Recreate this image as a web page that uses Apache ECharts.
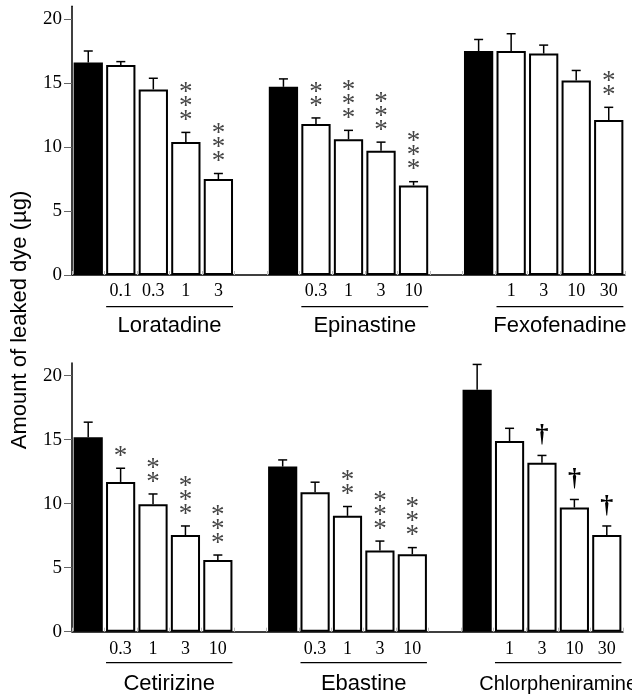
<!DOCTYPE html>
<html>
<head>
<meta charset="utf-8">
<script src="https://cdn.jsdelivr.net/npm/echarts@6/dist/echarts.min.js"></script>
<style>
  html, body { margin: 0; padding: 0; background: #fff; }
  #chart { width: 632px; height: 698px; }
</style>
</head>
<body>
<div id="chart"></div>
<script>
// 上段のデータ
const topDrugs = ['Loratadine', 'Epinastine', 'Fexofenadine']
const topDoses = [['0.1', '0.3', '1', '3'], ['0.3', '1', '3', '10'], ['1', '3', '10', '30']]
const topMeans = [[16.6, 16.4, 14.5, 10.4, 7.5], [14.7, 11.8, 10.6, 9.7, 7.0], [17.5, 17.5, 17.3, 15.2, 12.1]]
const topSem = [[0.9, 0.27, 0.87, 0.74, 0.43], [0.62, 0.47, 0.7, 0.68, 0.29], [0.9, 1.35, 0.66, 0.78, 1.0]]
const topMarks = [['', '', '', '***', '***'], ['', '**', '***', '***', '***'], ['', '', '', '', '**']]

// 下段のデータ
const bottomDrugs = ['Cetirizine', 'Ebastine', 'Chlorpheniramine']
const bottomDoses = [['0.3', '1', '3', '10'], ['0.3', '1', '3', '10'], ['1', '3', '10', '30']]
const bottomMeans = [[15.2, 11.7, 9.95, 7.55, 5.6], [12.9, 10.9, 9.05, 6.35, 6.05], [18.9, 14.9, 13.2, 9.7, 7.55]]
const bottomSem = [[1.17, 1.07, 0.81, 0.71, 0.39], [0.52, 0.78, 0.73, 0.73, 0.52], [1.98, 0.99, 0.57, 0.63, 0.71]]
const bottomMarks = [['', '*', '**', '***', '***'], ['', '', '**', '***', '***'], ['', '', '†', '†', '†']]

const yTicks = [0, 5, 10, 15, 20]

// 1段分のカテゴリ・棒・誤差・記号を組み立てる（薬剤の間に空きを1つ入れる）
function buildPanel(drugs, doses, means, sems, marks) {
  const labels = [], bars = [], errs = [], notes = [], groups = []
  drugs.forEach((drug, g) => {
    if (g > 0) { labels.push(''); bars.push('-') }
    const start = labels.length
    means[g].forEach((m, i) => {
      const idx = labels.length
      labels.push(i === 0 ? '' : doses[g][i - 1])
      bars.push(i === 0
        ? { value: m, itemStyle: { color: '#000', borderColor: '#000' } }
        : { value: m })
      errs.push([idx, m, m + sems[g][i]])
      if (marks[g][i]) notes.push([idx, m + sems[g][i], marks[g][i]])
    })
    groups.push([start + 1, labels.length - 1, 0, drug])
  })
  return { labels, bars, errs, notes, groups }
}

const panels = [
  buildPanel(topDrugs, topDoses, topMeans, topSem, topMarks),
  buildPanel(bottomDrugs, bottomDoses, bottomMeans, bottomSem, bottomMarks)
]

function renderErr(params, api) {
  const x = api.value(0)
  const p0 = api.coord([x, api.value(1)])
  const p1 = api.coord([x, api.value(2)])
  const cap = 4.5
  const st = { stroke: '#000', lineWidth: 1.5 }
  return {
    type: 'group',
    children: [
      { type: 'line', shape: { x1: p0[0], y1: p0[1], x2: p1[0], y2: p1[1] }, style: st },
      { type: 'line', shape: { x1: p1[0] - cap, y1: p1[1], x2: p1[0] + cap, y2: p1[1] }, style: st }
    ]
  }
}

function makeNoteRenderer(notes) {
  return function (params, api) {
    const n = notes[params.dataIndex]
    const p = api.coord([n[0], n[1]])
    const children = []
    if (n[2] === '†') {
      children.push({
        type: 'text',
        style: { text: '†', x: p[0], y: p[1] - 20, align: 'center', verticalAlign: 'middle',
          font: 'bold 26px "Liberation Serif"', fill: '#000' }
      })
    } else {
      for (let k = 0; k < n[2].length; k++) {
        children.push({
          type: 'text',
          style: { text: '*', x: p[0], y: p[1] - 11.5 - k * 14, align: 'center', verticalAlign: 'middle',
            font: '27px "Liberation Serif"', fill: '#444' }
        })
      }
    }
    return { type: 'group', children }
  }
}

function makeGroupRenderer(groups, lineOff, textOff, fonts) {
  return function (params, api) {
    const g = groups[params.dataIndex]
    const a = api.coord([g[0], 0])
    const b = api.coord([g[1], 0])
    const half = api.size([1, 0])[0] * 0.45
    const x1 = a[0] - half, x2 = b[0] + half
    return {
      type: 'group',
      children: [
        { type: 'line', shape: { x1, y1: a[1] + lineOff, x2, y2: a[1] + lineOff }, style: { stroke: '#000', lineWidth: 1.3 } },
        { type: 'text', style: { text: g[3], x: (x1 + x2) / 2, y: a[1] + textOff, align: 'center', verticalAlign: 'middle',
          font: fonts[params.dataIndex], fill: '#000' } }
      ]
    }
  }
}

const chart = echarts.init(document.getElementById('chart'))

const grids = [
  { left: 72, top: 6.2, width: 553, height: 268.8 },
  { left: 72, top: 362.9, width: 551, height: 268.8 }
]

const xAxes = panels.map((p, i) => ({
  type: 'category',
  gridIndex: i,
  data: p.labels,
  axisLine: { lineStyle: { color: '#000', width: 1.5 } },
  axisTick: { show: true, inside: true, length: 4, lineStyle: { color: '#bbb' } },
  axisLabel: { interval: 0, margin: i === 0 ? 7 : 9, color: '#000', fontFamily: 'Liberation Serif', fontSize: 18 }
}))

const yAxes = panels.map((p, i) => ({
  type: 'value',
  gridIndex: i,
  min: 0,
  max: 21,
  interval: 5,
  splitLine: { show: false },
  axisLine: { show: true, lineStyle: { color: '#000', width: 1.5 } },
  axisTick: { show: true, length: 8, customValues: yTicks, lineStyle: { color: '#666', width: 1 } },
  axisLabel: { customValues: yTicks, margin: 10, color: '#000', fontFamily: 'Liberation Serif', fontSize: 19 }
}))

const series = []
panels.forEach((p, i) => {
  series.push({
    type: 'bar',
    xAxisIndex: i,
    yAxisIndex: i,
    data: p.bars,
    barWidth: '90%',
    itemStyle: { color: '#fff', borderColor: '#000', borderWidth: 2 },
    animation: false
  })
  series.push({
    type: 'custom',
    xAxisIndex: i,
    yAxisIndex: i,
    data: p.errs,
    encode: { x: 0, y: [1, 2] },
    renderItem: renderErr,
    z: 3,
    animation: false
  })
  series.push({
    type: 'custom',
    xAxisIndex: i,
    yAxisIndex: i,
    data: p.notes.map(n => [n[0], n[1]]),
    encode: { x: 0, y: 1 },
    renderItem: makeNoteRenderer(p.notes),
    z: 3,
    clip: false,
    animation: false
  })
  series.push({
    type: 'custom',
    xAxisIndex: i,
    yAxisIndex: i,
    data: p.groups.map(g => [g[0], g[1], g[2]]),
    encode: { x: [0, 1], y: 2 },
    renderItem: makeGroupRenderer(p.groups, i === 0 ? 31.7 : 31, i === 0 ? 51 : 52.3,
      i === 0
        ? ['22px "Liberation Sans"', '22px "Liberation Sans"', '22px "Liberation Sans"']
        : ['22px "Liberation Sans"', '22px "Liberation Sans"', '20px "Liberation Sans"']),
    clip: false,
    silent: true,
    animation: false
  })
})

chart.setOption({
  backgroundColor: '#fff',
  animation: false,
  grid: grids,
  xAxis: xAxes,
  yAxis: yAxes,
  series,
  graphic: [{
    type: 'text',
    x: 20,
    y: 320,
    rotation: Math.PI / 2,
    style: { text: 'Amount of leaked dye (µg)', font: '22px "Liberation Sans"', fill: '#000', align: 'center', verticalAlign: 'middle' }
  }]
})

window.addEventListener('resize', () => chart.resize())
</script>
</body>
</html>
